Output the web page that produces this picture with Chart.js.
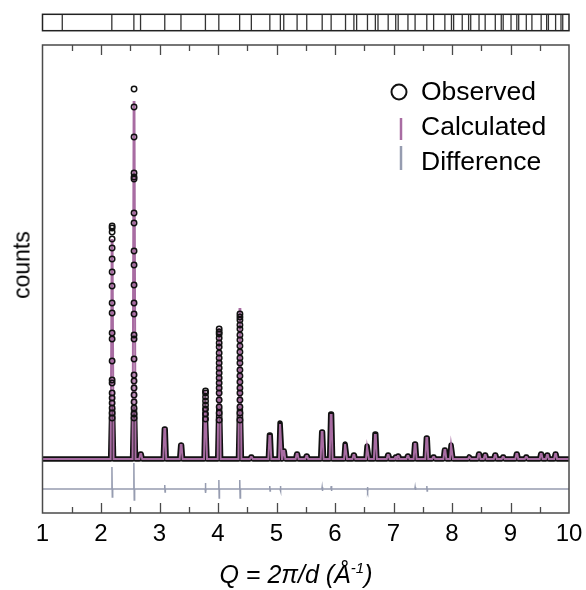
<!DOCTYPE html>
<html>
<head>
<meta charset="utf-8">
<script src="https://cdn.jsdelivr.net/npm/chart.js@4.4.0/dist/chart.umd.min.js"></script>
<style>
  body { margin: 0; background: #fff; }
  #wrap { position: relative; width: 586px; height: 590px; font-family: 'Liberation Sans', Arial, sans-serif; }
  #wrap canvas { position: absolute; left: 0; top: 0; }
  .ylab { position: absolute; left: 22px; top: 265px; transform: translate(-50%, -50%) rotate(-90deg); font-size: 23px; color: #000; }
  .xlab { position: absolute; left: 296px; top: 574px; transform: translate(-50%, -50%); font-size: 25px; font-style: italic; white-space: nowrap; color: #000; }
  .xlab sup { font-size: 15px; vertical-align: 10px; line-height: 0; }
</style>
</head>
<body>
<div id="wrap">
  <canvas id="main" width="586" height="590"></canvas>
  <canvas id="refl" width="586" height="45"></canvas>
  <div class="ylab">counts</div>
  <div class="xlab">Q = 2π/d (Å<sup>-1</sup>)</div>
</div>
<script>
(function () {
  'use strict';

  // --- Data (Q in 1/Å, counts in arbitrary units) ---
  // Reflection positions shown in the top strip
  const reflQ = [1.338, 2.185, 2.562, 2.676, 3.090, 3.367, 3.785, 4.014, 4.370, 4.570,
    4.886, 5.066, 5.124, 5.352, 5.517, 5.781, 5.934, 6.180, 6.323, 6.370, 6.555, 6.690,
    6.735, 6.909, 7.038, 7.080, 7.247, 7.369, 7.569, 7.686, 7.878, 7.991, 8.028, 8.175,
    8.284, 8.320, 8.462, 8.567, 8.740, 8.842, 8.875, 9.009, 9.108, 9.140, 9.270, 9.366,
    9.524, 9.618, 9.648, 9.771, 9.863, 9.893];

  // Peak positions and heights of the calculated / observed profile
  const peakQ = [2.19, 2.565, 2.68, 3.09, 3.37, 3.787, 4.02, 4.375, 4.57, 4.886, 5.068,
    5.125, 5.352, 5.517, 5.78, 5.934, 6.18, 6.323, 6.555, 6.69, 6.909, 7.04, 7.08, 7.247,
    7.369, 7.569, 7.686, 7.878, 7.991, 8.30, 8.462, 8.567, 8.74, 8.875, 9.108, 9.27,
    9.524, 9.63, 9.771];
  const calcCounts = [219, 357, 5, 30, 14, 68, 130, 150, 2, 23, 35, 8, 5, 3, 27, 44, 15,
    4, 12, 24, 4, 2, 3, 3, 15, 21, 2, 9, 14, 2, 5, 4, 4, 2, 5, 2, 5, 4, 5];
  const obsCounts = [233, 370, 5, 30, 14, 68, 130, 146, 2, 24, 36, 8, 5, 3, 27, 45, 15,
    4, 13, 25, 4, 2, 3, 3, 15, 21, 2, 9, 14, 2, 5, 4, 4, 2, 5, 2, 5, 4, 5];

  // Individual observed points visible on the tall peaks
  const circleQ = [2.19, 2.565, 3.787, 4.02, 4.375];
  const circleCounts = [
    [233, 231, 227, 220, 211, 200, 187, 173, 156, 146, 126, 120, 98, 79, 76, 66, 61, 56, 51, 46, 41],
    [370, 352, 322, 286, 282, 280, 246, 236, 208, 194, 174, 156, 145, 124, 120, 100, 84, 78, 71, 64, 57, 51, 45, 41],
    [68, 66, 62, 58, 54, 50, 45, 40],
    [130, 127, 125, 121, 116, 112, 106, 101, 96, 91, 86, 81, 76, 71, 66, 59, 52, 46, 39],
    [145, 142, 139, 134, 130, 124, 119, 113, 107, 101, 96, 89, 83, 77, 71, 66, 59, 52, 46, 39],
  ];

  // Difference curve (obs - calc), drawn below the pattern
  const diffQ = [1, 2.18, 2.187, 2.193, 2.2, 2.555, 2.562, 2.568, 2.575,
    3.085, 3.09, 3.095, 3.1, 3.78, 3.785, 3.79, 3.795, 4.01, 4.015, 4.02, 4.025,
    4.365, 4.372, 4.378, 4.385, 4.88, 4.885, 4.89, 4.895, 5.06, 5.065, 5.07, 5.075,
    5.775, 5.78, 5.785, 5.79, 5.93, 5.935, 5.94, 5.945, 6.55, 6.555, 6.56, 6.565,
    7.365, 7.37, 7.375, 7.38, 7.565, 7.57, 7.575, 7.58, 10];
  const diffCounts = [0, 0, 22, -8, 0, 0, 26, -11, 0,
    0, 4, -3, 0, 0, 6, -4, 0, 0, 9, -9, 0,
    0, 9, -9, 0, 0, 3, -2, 0, 0, 3, -2, 0,
    0, 2, -2, 0, 0, 3, -2, 0, 0, 2, -2, 0,
    0, 2, -1, 0, 0, 3, -2, 0, 0];

  const xTicks = [1, 2, 3, 4, 5, 6, 7, 8, 9, 10];

  // --- Styles ---
  const FONT = "'Liberation Sans', Arial, sans-serif";
  const CALC_COLOR = 'rgb(168, 108, 162)';
  const DIFF_COLOR = 'rgb(150, 156, 176)';
  const FRAME_COLOR = '#4a4a4a';
  const DIFF_OFFSET = -30;     // vertical offset of the difference curve
  const BAND_CAP = 50;         // dense observed points merge into a band below this
  const PEAK_BASE_HALF = 0.025; // half width of a peak at its foot (Q units)
  const PEAK_TOP_HALF = 0.007;

  // --- Build point lists for the library ---
  function profile(heights, cap) {
    const pts = [{ x: 1, y: 0 }];
    peakQ.forEach((q, i) => {
      const h = cap ? Math.min(heights[i], cap) : heights[i];
      pts.push({ x: q - PEAK_BASE_HALF, y: 0 });
      pts.push({ x: q - PEAK_TOP_HALF, y: h });
      pts.push({ x: q + PEAK_TOP_HALF, y: h });
      pts.push({ x: q + PEAK_BASE_HALF, y: 0 });
    });
    pts.push({ x: 10, y: 0 });
    return pts;
  }

  const calcPts = profile(calcCounts);
  const bandPts = profile(obsCounts, BAND_CAP);
  const circlePts = [];
  circleQ.forEach((q, i) => circleCounts[i].forEach(c => circlePts.push({ x: q, y: c })));
  const diffPts = diffQ.map((q, i) => ({ x: q, y: diffCounts[i] + DIFF_OFFSET }));

  /**
   * Frame with inward ticks at top and bottom.
   */
  const framePlugin = {
    id: 'frame',
    afterDraw(chart) {
      const { ctx, chartArea: a, scales: { x } } = chart;
      ctx.save();
      ctx.strokeStyle = FRAME_COLOR;
      ctx.lineWidth = 1.5;
      ctx.strokeRect(a.left, a.top, a.right - a.left, a.bottom - a.top);
      ctx.lineWidth = 1.3;
      for (let v = 1.5; v < 10; v += 0.5) {
        const px = Math.round(x.getPixelForValue(v)) + 0.5;
        const len = Number.isInteger(v) ? 10 : 6;
        ctx.beginPath();
        ctx.moveTo(px, a.bottom); ctx.lineTo(px, a.bottom - len);
        ctx.moveTo(px, a.top); ctx.lineTo(px, a.top + len);
        ctx.stroke();
      }
      ctx.restore();
    },
  };

  /**
   * Legend in the upper right of the plot.
   */
  const legendPlugin = {
    id: 'legendBox',
    afterDraw(chart) {
      const { ctx } = chart;
      ctx.save();
      ctx.font = '26.5px ' + FONT;
      ctx.fillStyle = '#000';
      ctx.textBaseline = 'alphabetic';
      ctx.strokeStyle = '#111';
      ctx.lineWidth = 2;
      ctx.beginPath();
      ctx.arc(399, 92, 7.5, 0, Math.PI * 2);
      ctx.stroke();
      ctx.lineWidth = 2.5;
      ctx.strokeStyle = CALC_COLOR;
      ctx.beginPath(); ctx.moveTo(401, 118); ctx.lineTo(401, 140); ctx.stroke();
      ctx.strokeStyle = DIFF_COLOR;
      ctx.beginPath(); ctx.moveTo(401, 146); ctx.lineTo(401, 170); ctx.stroke();
      ctx.fillText('Observed', 421, 100);
      ctx.fillText('Calculated', 421, 135);
      ctx.fillText('Difference', 421, 170);
      ctx.restore();
    },
  };

  new Chart(document.getElementById('main'), {
    type: 'line',
    data: {
      datasets: [
        {
          label: 'Observed', data: circlePts, showLine: false, order: 0,
          pointRadius: 2.7, pointBorderWidth: 1.5, pointBorderColor: '#111',
          pointBackgroundColor: 'rgba(0,0,0,0)',
        },
        {
          label: 'Difference', data: diffPts, order: 1,
          borderColor: DIFF_COLOR, borderWidth: 1.5, pointRadius: 0,
        },
        {
          label: 'Calculated', data: calcPts, order: 2,
          borderColor: CALC_COLOR, borderWidth: 2, pointRadius: 0,
        },
        {
          label: 'Observed band', data: bandPts, order: 3,
          borderColor: '#111', borderWidth: 5.5, pointRadius: 0,
          borderJoinStyle: 'round', borderCapStyle: 'round',
        },
      ],
    },
    options: {
      responsive: false,
      animation: false,
      events: [],
      layout: { padding: { left: 0, right: 17, top: 45, bottom: 0 } },
      plugins: { legend: { display: false }, tooltip: { enabled: false } },
      scales: {
        x: {
          type: 'linear', min: 1, max: 10,
          afterFit: s => { s.height = 77; },
          afterBuildTicks: s => { s.ticks = xTicks.map(v => ({ value: v })); },
          grid: { display: false },
          border: { display: false },
          ticks: { color: '#000', font: { size: 24, family: FONT }, padding: -1, maxRotation: 0, autoSkip: false },
        },
        y: {
          min: -54, max: 414,
          afterFit: s => { s.width = 42.5; },
          grid: { display: false },
          border: { display: false },
          ticks: { display: false },
        },
      },
    },
    plugins: [framePlugin, legendPlugin],
  });

  // --- Reflection marker strip ---
  const boxPlugin = {
    id: 'box',
    afterDraw(chart) {
      const { ctx, chartArea: a } = chart;
      ctx.save();
      ctx.strokeStyle = '#222';
      ctx.lineWidth = 1.5;
      ctx.strokeRect(a.left, a.top, a.right - a.left, a.bottom - a.top);
      ctx.restore();
    },
  };

  new Chart(document.getElementById('refl'), {
    type: 'scatter',
    data: {
      datasets: [{
        label: 'Reflections',
        data: reflQ.map(q => ({ x: q, y: 0.5 })),
        pointStyle: 'line', pointRadius: 13, rotation: 90,
        borderColor: '#333', borderWidth: 1.3,
      }],
    },
    options: {
      responsive: false,
      animation: false,
      events: [],
      layout: { padding: { left: 42.5, right: 17, top: 11, bottom: 8 } },
      plugins: { legend: { display: false }, tooltip: { enabled: false } },
      scales: {
        x: { type: 'linear', min: 1, max: 10, display: false },
        y: { min: 0, max: 1, display: false },
      },
    },
    plugins: [boxPlugin],
  });
})();
</script>
</body>
</html>
